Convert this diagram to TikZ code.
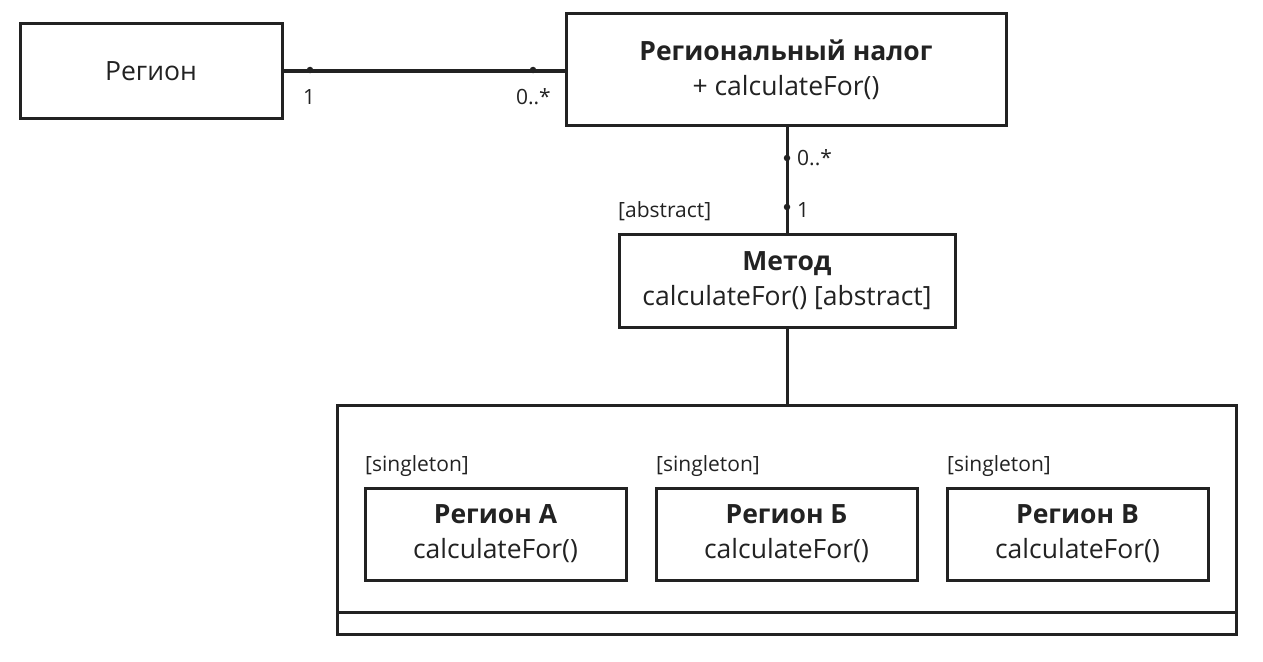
\documentclass[tikz,border=0pt]{standalone}
\usepackage{fontspec}
\setmainfont{Open Sans}
\definecolor{ink}{HTML}{222222}
\begin{document}
\begin{tikzpicture}[x=1pt,y=-1pt,
  box/.style={draw=ink,line width=3pt,fill=white,inner sep=0pt,align=center,font=\fontsize{26.5}{35}\selectfont,text=ink},
  conn/.style={draw=ink,line width=3pt},
  dotm/.style={circle,fill=ink,inner sep=0pt,minimum size=6.5pt},
  lbl/.style={font=\fontsize{21}{24}\selectfont,text=ink,inner sep=0pt}]
\useasboundingbox (0,0) rectangle (1263,661);
\node[box,minimum width=262pt,minimum height=94pt] (reg) at (151,71) {Регион};
\node[box,minimum width=440pt,minimum height=111pt] (tax) at (786,69.5) {\textbf{Региональный налог}\\+ calculateFor()};
\node[box,minimum width=336pt,minimum height=93pt] (met) at (787,280.5) {\textbf{Метод}\\calculateFor() [abstract]};
\node[draw=ink,line width=3pt,minimum width=899pt,minimum height=229pt,inner sep=0pt] (cont) at (786.5,519.5) {};
\coordinate (cl) at (337,612);
\coordinate (cr) at (1236,612);
\draw[conn] (cl) -- (cr);
\node[box,minimum width=261pt,minimum height=92pt] (ra) at (495.5,534) {\textbf{Регион А}\\calculateFor()};
\node[box,minimum width=261pt,minimum height=92pt] (rb) at (786.5,534) {\textbf{Регион Б}\\calculateFor()};
\node[box,minimum width=261pt,minimum height=92pt] (rv) at (1077.5,534) {\textbf{Регион В}\\calculateFor()};
\node[lbl,anchor=west] (sa) at (365,466) {[singleton]};
\node[lbl,anchor=west] (sb) at (656,466) {[singleton]};
\node[lbl,anchor=west] (sv) at (947,466) {[singleton]};
\draw[conn] (reg.east) -- (reg.east -| tax.west);
\node[dotm] (d1) at (310,70) {};
\node[dotm] (d2) at (533,70) {};
\node[lbl] (l1) at (309,97) {1};
\node[lbl,anchor=east] (l2) at (551,97) {0..*};
\draw[conn] (tax.south -| met.north) -- (met.north);
\node[dotm] (d3) at (787,158) {};
\node[dotm] (d4) at (787,207) {};
\node[lbl,anchor=west] (l3) at (797,158) {0..*};
\node[lbl,anchor=west] (l4) at (797,210) {1};
\node[lbl,anchor=west] (ab) at (618,211) {[abstract]};
\draw[conn] (met.south) -- (met.south |- cont.north);
\end{tikzpicture}
\end{document}
